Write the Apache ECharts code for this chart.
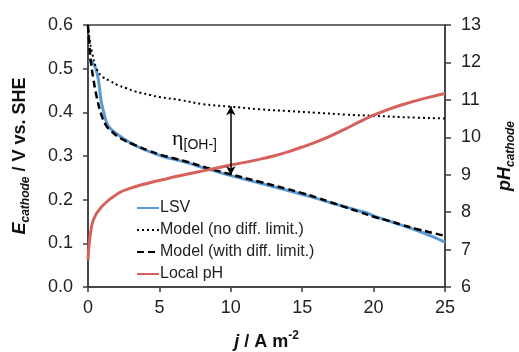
<!DOCTYPE html>
<html>
<head>
<meta charset="utf-8">
<script src="https://cdn.jsdelivr.net/npm/echarts@6/dist/echarts.min.js"></script>
<style>html,body{margin:0;padding:0;background:#fff;}#c{width:519px;height:352px;}</style>
</head>
<body>
<div id="c"></div>
<script>
// ---- data ----
var xTicks = [0, 5, 10, 15, 20, 25];
var leftTicks = [0.0, 0.1, 0.2, 0.3, 0.4, 0.5, 0.6];
var rightTicks = [6, 7, 8, 9, 10, 11, 12, 13];

var lsvJ = [0.05, 0.3, 0.55, 0.75, 0.9, 1.1, 1.4, 2.0, 3.3, 5.15, 6.8, 8.3, 10, 12, 14, 16, 17, 18, 19, 19.5, 20, 21, 22, 23, 24, 25];
var lsvE = [0.52, 0.515, 0.50, 0.47, 0.43, 0.40, 0.37, 0.351, 0.324, 0.300, 0.286, 0.271, 0.255, 0.238, 0.221, 0.203, 0.193, 0.184, 0.174, 0.170, 0.163, 0.152, 0.141, 0.130, 0.117, 0.103];

var noDiffJ = [0, 0.1, 0.26, 0.6, 1.0, 1.54, 2.1, 2.7, 3.3, 4.45, 5.0, 6.5, 8, 10, 12, 14, 16, 18, 20, 22, 25];
var noDiffE = [0.6, 0.57, 0.54, 0.50, 0.482, 0.472, 0.462, 0.455, 0.448, 0.439, 0.435, 0.428, 0.419, 0.413, 0.407, 0.403, 0.399, 0.395, 0.392, 0.389, 0.386];

var withDiffJ = [0, 0.09, 0.19, 0.37, 0.6, 0.96, 1.31, 1.66, 2.3, 3.3, 4.2, 5.15, 6.8, 8.3, 10, 12, 14, 15, 16, 17, 18, 19, 20, 21, 22, 23, 24, 25];
var withDiffE = [0.598, 0.558, 0.519, 0.478, 0.437, 0.392, 0.368, 0.356, 0.34, 0.325, 0.313, 0.302, 0.288, 0.273, 0.258, 0.241, 0.224, 0.215, 0.205, 0.194, 0.183, 0.172, 0.161, 0.152, 0.142, 0.133, 0.125, 0.117];

var phJ = [0, 0.14, 0.37, 0.96, 2.1, 3.3, 5.6, 8.4, 10, 11, 12, 13, 14, 15, 16, 17, 18, 19, 20, 21, 22, 23, 24, 25];
var phV = [6.72, 7.34, 7.79, 8.15, 8.50, 8.68, 8.90, 9.13, 9.26, 9.33, 9.41, 9.50, 9.61, 9.74, 9.88, 10.04, 10.22, 10.41, 10.59, 10.74, 10.87, 10.98, 11.08, 11.17];

var arrowJ = 10, arrowTop = 0.414, arrowBottom = 0.256;

var seriesNames = ['LSV', 'Model (no diff. limit.)', 'Model (with diff. limit.)', 'Local pH'];

function pairs(xs, ys) { return xs.map(function (x, i) { return [x, ys[i]]; }); }

var FONT = 'Liberation Sans, Arial, Helvetica, sans-serif';
var AX = '#3c3c3c';
var chart = echarts.init(document.getElementById('c'), null, {renderer: 'canvas'});

var option = {
  animation: false,
  backgroundColor: '#fff',
  textStyle: {fontFamily: FONT},
  grid: {left: 88, right: 74, top: 25, bottom: 65, containLabel: false, outerBoundsMode: 'none',
    show: true, borderColor: AX, borderWidth: 1.5, backgroundColor: 'transparent'},
  legend: {
    orient: 'vertical', left: 131, top: 192, itemWidth: 22, itemHeight: 14, itemGap: 0,
    data: seriesNames,
    itemStyle: {opacity: 0},
    textStyle: {fontSize: 16, color: '#222', fontFamily: FONT, lineHeight: 22, padding: [0, 0, 0, -4]}
  },
  xAxis: {
    type: 'value', min: 0, max: 25, interval: 5,
    axisLine: {lineStyle: {color: AX, width: 1.5}},
    axisTick: {show: true, length: 5, lineStyle: {color: AX, width: 1.5}},
    splitLine: {show: false},
    axisLabel: {fontSize: 18, color: '#222', margin: 12, fontFamily: FONT,
      formatter: function (v) { return xTicks.indexOf(v) >= 0 ? String(v) : ''; }},
    name: '{i|j}{n| / A m}{sup|-2}', nameLocation: 'middle', nameGap: 43,
    nameTextStyle: {
      rich: {
        i: {fontSize: 18, fontWeight: 'bold', fontStyle: 'italic', fontFamily: FONT, color: '#111', lineHeight: 24, verticalAlign: 'middle'},
        n: {fontSize: 18, fontWeight: 'bold', fontFamily: FONT, color: '#111', lineHeight: 24, verticalAlign: 'middle'},
        sup: {fontSize: 12, fontWeight: 'bold', fontFamily: FONT, color: '#111', lineHeight: 12, verticalAlign: 'top'}
      }
    }
  },
  yAxis: [{
    type: 'value', min: 0, max: 0.6, interval: 0.1,
    axisLine: {show: true, lineStyle: {color: AX, width: 1.5}},
    axisTick: {show: true, length: 5, lineStyle: {color: AX, width: 1.5}},
    splitLine: {show: false},
    axisLabel: {fontSize: 18, color: '#222', margin: 15, fontFamily: FONT,
      formatter: function (v) { return v.toFixed(1); }},
    name: '{i|E}{sub|cathode}{n| / V vs. SHE}', nameLocation: 'middle', nameGap: 56, nameRotate: 90,
    nameTextStyle: {
      rich: {
        i: {fontSize: 18, fontWeight: 'bold', fontStyle: 'italic', fontFamily: FONT, color: '#111', lineHeight: 24, verticalAlign: 'middle'},
        n: {fontSize: 18, fontWeight: 'bold', fontFamily: FONT, color: '#111', lineHeight: 24, verticalAlign: 'middle'},
        sub: {fontSize: 12, fontWeight: 'bold', fontStyle: 'italic', fontFamily: FONT, color: '#111', lineHeight: 12, verticalAlign: 'bottom'}
      }
    }
  }, {
    type: 'value', min: 6, max: 13, interval: 1, position: 'right',
    axisLine: {show: true, lineStyle: {color: AX, width: 1.5}},
    axisTick: {show: true, length: 6, lineStyle: {color: AX, width: 1.5}},
    splitLine: {show: false},
    axisLabel: {fontSize: 18, color: '#222', margin: 16, fontFamily: FONT},
    name: '{i|pH}{sub|cathode}', nameLocation: 'middle', nameGap: 48, nameRotate: 90,
    nameTextStyle: {
      rich: {
        i: {fontSize: 18, fontWeight: 'bold', fontStyle: 'italic', fontFamily: FONT, color: '#111', lineHeight: 24, verticalAlign: 'middle'},
        sub: {fontSize: 12, fontWeight: 'bold', fontStyle: 'italic', fontFamily: FONT, color: '#111', lineHeight: 12, verticalAlign: 'bottom'}
      }
    }
  }],
  series: [{
    name: seriesNames[0], type: 'line', data: pairs(lsvJ, lsvE), showSymbol: false, symbol: 'none',
    smooth: 0.4,
    lineStyle: {color: '#5b9bd5', width: 3}, itemStyle: {color: '#5b9bd5'}
  }, {
    name: seriesNames[1], type: 'line', data: pairs(noDiffJ, noDiffE), showSymbol: false, symbol: 'none',
    smooth: 0.4,
    lineStyle: {color: '#000', width: 2, type: [2, 3]}, itemStyle: {color: '#000'}
  }, {
    name: seriesNames[2], type: 'line', data: pairs(withDiffJ, withDiffE), showSymbol: false, symbol: 'none',
    smooth: 0.4,
    lineStyle: {color: '#000', width: 2.5, type: [7, 4]}, itemStyle: {color: '#000'},
    markLine: {
      silent: true, symbol: ['arrow', 'arrow'], symbolSize: [7, 9], animation: false,
      lineStyle: {color: '#000', width: 1.5, type: 'solid'},
      label: {show: false},
      data: [[{coord: [arrowJ, arrowTop]}, {coord: [arrowJ, arrowBottom]}]]
    }
  }, {
    name: seriesNames[3], type: 'line', yAxisIndex: 1, data: pairs(phJ, phV), showSymbol: false, symbol: 'none',
    smooth: 0.4,
    lineStyle: {color: '#d6605a', width: 3}, itemStyle: {color: '#d6605a'}
  }],
  graphic: [{
    type: 'text', left: 172, top: 128, z: 100,
    style: {
      text: '{e|η}{s|[OH-]}',
      rich: {
        e: {fontSize: 22, fontFamily: 'Liberation Serif, DejaVu Serif, serif', fill: '#111', lineHeight: 26, verticalAlign: 'middle'},
        s: {fontSize: 14, fontFamily: FONT, fill: '#111', lineHeight: 14, verticalAlign: 'bottom'}
      }
    }
  }]
};
chart.setOption(option);
</script>
</body>
</html>
